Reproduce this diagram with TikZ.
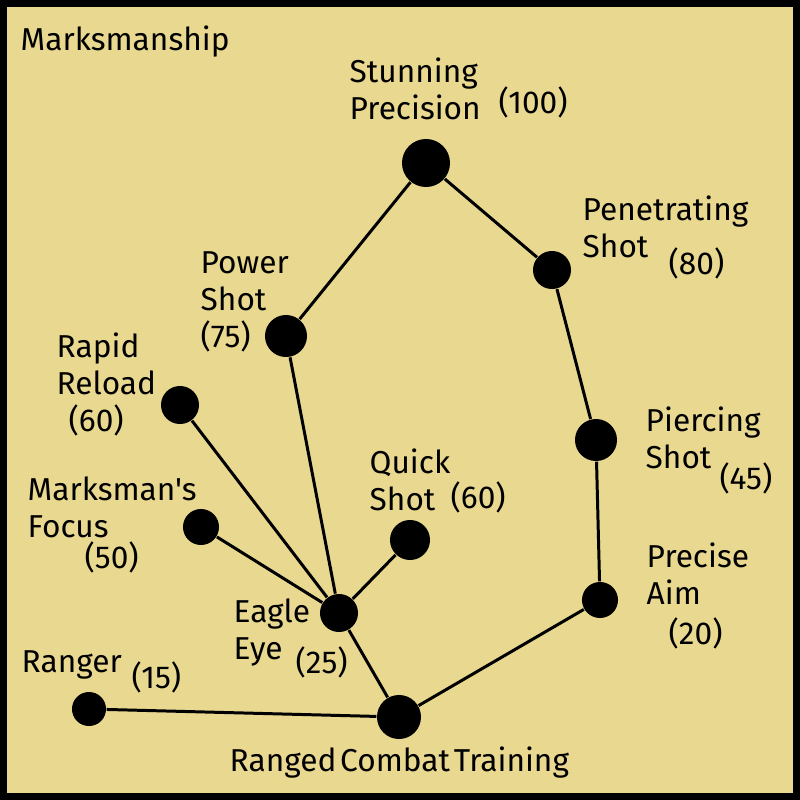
\documentclass[tikz,border=0pt]{standalone}
\usepackage{fontspec}
\setmainfont{Fira Sans}[Ligatures=TeXOff]
\definecolor{parchment}{RGB}{232,216,144}

\begin{document}
\begin{tikzpicture}[x=0.01cm,y=-0.01cm,
    skill/.style={circle,fill=black,inner sep=0pt},
    link/.style={line width=0.85pt},
    lbl/.style={inner sep=0pt,anchor=base west,align=left,font=\fontsize{9}{10.5}\selectfont}]
    % Background and frame
    \useasboundingbox (0,0) rectangle (800,800);
    \fill[parchment] (0,0) rectangle (800,800);
    \draw[line width=0.14cm] (0,0) rectangle (800,800);

    % Skills
    \node[skill,minimum size=4.8mm] (stun) at (426,163) {};
    \node[skill,minimum size=3.8mm] (pen) at (552,270) {};
    \node[skill,minimum size=4.2mm] (power) at (286,336) {};
    \node[skill,minimum size=3.8mm] (rapid) at (180,405) {};
    \node[skill,minimum size=4.2mm] (pierce) at (596,440) {};
    \node[skill,minimum size=4mm] (quick) at (410,540) {};
    \node[skill,minimum size=3.6mm] (focus) at (201,527) {};
    \node[skill,minimum size=3.8mm] (eagle) at (339,613) {};
    \node[skill,minimum size=3.6mm] (aim) at (600,600) {};
    \node[skill,minimum size=3.4mm] (ranger) at (89,709) {};
    \node[skill,minimum size=4.4mm] (rct) at (399,717) {};

    % Links
    \draw[link] (ranger) -- (rct);
    \draw[link] (rct) -- (eagle);
    \draw[link] (rct) -- (aim);
    \draw[link] (aim) -- (pierce);
    \draw[link] (pierce) -- (pen);
    \draw[link] (pen) -- (stun);
    \draw[link] (stun) -- (power);
    \draw[link] (power) -- (eagle);
    \draw[link] (rapid) -- (eagle);
    \draw[link] (focus) -- (eagle);
    \draw[link] (quick) -- (eagle);

    % Labels (base = last line)
    \node[lbl] (title) at (20,50) {Marksmanship};
    \node[lbl] (stunname) at (349,119) {Stunning\\Precision};
    \node[lbl] (stuncost) at (498,113) {(100)};
    \node[lbl] (penname) at (582,257) {Penetrating\\Shot};
    \node[lbl] (pencost) at (668,274) {(80)};
    \node[lbl] (powername) at (200,347) {Power\\Shot\\(75)};
    \node[lbl] (rapidname) at (56,394) {Rapid\\Reload};
    \node[lbl] (rapidcost) at (68,431) {(60)};
    \node[lbl] (focusname) at (27,537) {Marksman's\\Focus};
    \node[lbl] (focuscost) at (84,568) {(50)};
    \node[lbl] (quickname) at (369,510) {Quick\\Shot};
    \node[lbl] (quickcost) at (450,508) {(60)};
    \node[lbl] (piercename) at (645,468) {Piercing\\Shot};
    \node[lbl] (piercecost) at (719,489) {(45)};
    \node[lbl] (aimname) at (646,604) {Precise\\Aim};
    \node[lbl] (aimcost) at (668,644) {(20)};
    \node[lbl] (eaglename) at (233,659) {Eagle\\Eye};
    \node[lbl] (eaglecost) at (295,673) {(25)};
    \node[lbl] (rangername) at (21,672) {Ranger};
    \node[lbl] (rangercost) at (131,688) {(15)};
    \node[lbl] (rctname) at (229,771) {\spaceskip=0.12em Ranged Combat Training};
\end{tikzpicture}
\end{document}
